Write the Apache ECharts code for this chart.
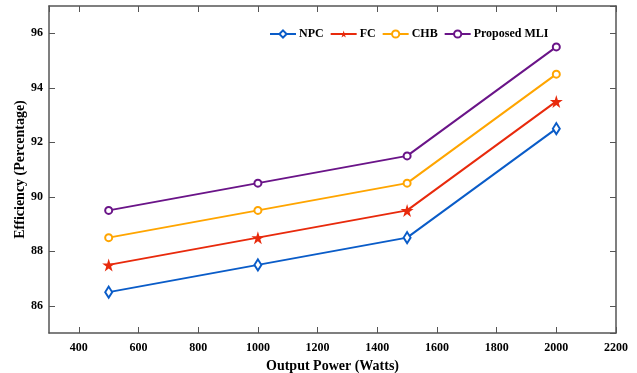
<!DOCTYPE html>
<html>
<head>
<meta charset="utf-8">
<script src="https://cdn.jsdelivr.net/npm/echarts@6/dist/echarts.min.js"></script>
<style>
    html, body { margin: 0; padding: 0; background: #fff; }
    #chart1 { width: 637px; height: 373px; }
</style>
</head>
<body>
<div id="chart1"></div>
<script>
    // 输出功率 (W)
    var powerList = [500, 1000, 1500, 2000];
    var npcData = [86.5, 87.5, 88.5, 92.5];
    var fcData = [87.5, 88.5, 89.5, 93.5];
    var chbData = [88.5, 89.5, 90.5, 94.5];
    var mliData = [89.5, 90.5, 91.5, 95.5];
    var seriesNames = ['NPC', 'FC', 'CHB', 'Proposed MLI'];
    var colorArr = ['#0a5cc8', '#e82a0c', '#ffa500', '#6a1488'];

    var starPath = 'path://M50,0 L61,35 L98,35 L68,57 L79,91 L50,70 L21,91 L32,57 L2,35 L39,35 Z';
    var fontFam = '"Liberation Serif", "Times New Roman", serif';

    function pairs(vals) {
        return powerList.map(function (p, i) { return [p, vals[i]]; });
    }

    function makeSeries(name, vals, color, symbol, size, fillWhite) {
        return {
            name: name,
            type: 'line',
            data: pairs(vals),
            symbol: symbol,
            symbolSize: size,
            showAllSymbol: true,
            lineStyle: { color: color, width: 2 },
            itemStyle: {
                color: fillWhite ? '#fff' : color,
                borderColor: color,
                borderWidth: fillWhite ? 2 : 0
            },
            emphasis: { disabled: true },
            animation: false
        };
    }

    var chart1 = echarts.init(document.getElementById('chart1'));
    var axisLine = { show: true, lineStyle: { color: '#555', width: 1.5 } };
    var option = {
        backgroundColor: '#fff',
        grid: { left: 49, right: 21, top: 6, bottom: 40, outerBoundsMode: 'none', containLabel: false },
        legend: {
            top: 23,
            left: 264,
            itemGap: 6,
            itemWidth: 26,
            itemHeight: 9,
            textStyle: { fontFamily: fontFam, fontWeight: 'bold', fontSize: 12, color: '#000', padding: [0, 0, 0, -2] },
            data: seriesNames
        },
        xAxis: [
            {
                type: 'value', min: 300, max: 2200, splitNumber: 10,
                name: 'Output Power (Watts)', nameLocation: 'middle', nameGap: 23,
                nameTextStyle: { fontFamily: fontFam, fontWeight: 'bold', fontSize: 14, color: '#000' },
                axisLine: axisLine,
                axisTick: { inside: true, length: 6, lineStyle: { color: '#555' } },
                axisLabel: {
                    showMinLabel: false, fontFamily: fontFam, fontWeight: 'bold', fontSize: 12, color: '#000', margin: 9,
                    formatter: function (v) { return String(v); }
                },
                splitLine: { show: false }
            },
            {
                type: 'value', position: 'top', min: 300, max: 2200, splitNumber: 10,
                axisLine: axisLine,
                axisTick: { inside: true, length: 6, lineStyle: { color: '#555' } },
                axisLabel: { show: false },
                splitLine: { show: false }
            }
        ],
        yAxis: [
            {
                type: 'value', min: 85, max: 97, splitNumber: 6,
                name: 'Efficiency (Percentage)', nameLocation: 'middle', nameGap: 22, nameMoveOverlap: false,
                nameTextStyle: { fontFamily: fontFam, fontWeight: 'bold', fontSize: 14, color: '#000' },
                axisLine: axisLine,
                axisTick: { inside: true, length: 6, lineStyle: { color: '#555' } },
                axisLabel: { showMinLabel: false, showMaxLabel: false, fontFamily: fontFam, fontWeight: 'bold', fontSize: 12, color: '#000', margin: 6 },
                splitLine: { show: false }
            },
            {
                type: 'value', position: 'right', min: 85, max: 97, splitNumber: 6,
                axisLine: axisLine,
                axisTick: { inside: true, length: 6, lineStyle: { color: '#555' } },
                axisLabel: { show: false },
                splitLine: { show: false }
            }
        ],
        series: [
            makeSeries(seriesNames[0], npcData, colorArr[0], 'diamond', [7, 11], true),
            makeSeries(seriesNames[1], fcData, colorArr[1], starPath, 13, false),
            makeSeries(seriesNames[2], chbData, colorArr[2], 'circle', 7, true),
            makeSeries(seriesNames[3], mliData, colorArr[3], 'circle', 7, true)
        ]
    };
    chart1.setOption(option);
</script>
</body>
</html>
